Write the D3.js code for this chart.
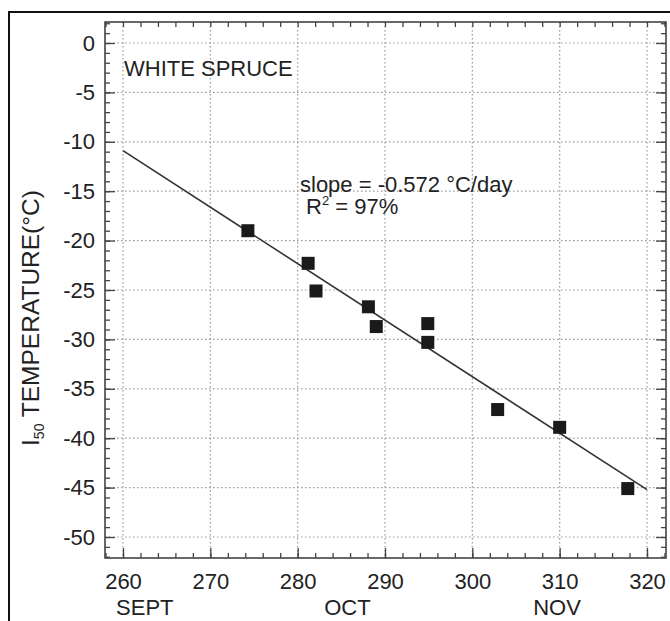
<!DOCTYPE html>
<html>
<head>
<meta charset="utf-8">
<script src="https://cdn.jsdelivr.net/npm/d3@7"></script>
<style>
  body { margin: 0; background: #fff; }
  svg { display: block; font-family: "Liberation Sans", Arial, sans-serif; }
</style>
</head>
<body>
<div id="chart"></div>
<script>
// 데이터
const dayOfYear = [274.3, 281.2, 282.1, 288.1, 289.0, 294.9, 294.9, 302.9, 310.0, 317.8];
const i50Temp   = [-19.0, -22.3, -25.1, -26.7, -28.7, -28.4, -30.3, -37.1, -38.9, -45.1];
const fitDays   = [260, 320];
const fitTemps  = [-10.9, -45.2];
const xTicks = [260, 270, 280, 290, 300, 310, 320];
const yTicks = [0, -5, -10, -15, -20, -25, -30, -35, -40, -45, -50];
const months = ['SEPT', 'OCT', 'NOV'];
const monthDays = [262.5, 285.7, 309.7];

const W = 670, H = 621;
const box = {left: 105, right: 666, top: 22, bottom: 558};

const svg = d3.select('#chart')
    .append('svg')
    .attr('width', W)
    .attr('height', H);

// 바깥 테두리
svg.append('rect')
    .attr('x', 9).attr('y', 12)
    .attr('width', 720).attr('height', 720)
    .attr('fill', 'none')
    .attr('stroke', '#111')
    .attr('stroke-width', 2);

const x = d3.scaleLinear().domain([260, 320]).range([123, 647]);
const y = d3.scaleLinear().domain([0, -50]).range([43, 537]);

const minorX = d3.range(258, 323, 2);
const minorY = d3.range(2, -53, -1);

// 격자
svg.append('g')
    .selectAll('line')
    .data(xTicks)
    .enter().append('line')
    .attr('x1', d => x(d)).attr('x2', d => x(d))
    .attr('y1', box.top).attr('y2', box.bottom)
    .attr('stroke', '#999')
    .attr('stroke-width', 1.2)
    .attr('stroke-dasharray', '1.5,2.5');

svg.append('g')
    .selectAll('line')
    .data(yTicks)
    .enter().append('line')
    .attr('x1', box.left).attr('x2', box.right)
    .attr('y1', d => y(d)).attr('y2', d => y(d))
    .attr('stroke', '#999')
    .attr('stroke-width', 1.2)
    .attr('stroke-dasharray', '1.5,2.5');

// 축 (안쪽 눈금)
function styleAxis(g) {
    g.select('.domain').remove();
    g.selectAll('line').attr('stroke', '#444').attr('stroke-width', 1.3);
    g.selectAll('text')
        .attr('fill', '#222')
        .style('font-size', '22px');
}

const plain = d => String(d);

// 왼쪽
svg.append('g')
    .attr('transform', `translate(${box.left},0)`)
    .call(d3.axisLeft(y).tickValues(minorY).tickSize(-5).tickFormat(''))
    .call(styleAxis);
svg.append('g')
    .attr('transform', `translate(${box.left},0)`)
    .call(d3.axisLeft(y).tickValues(yTicks).tickSize(-10).tickPadding(10).tickFormat(plain))
    .call(styleAxis);

// 오른쪽
svg.append('g')
    .attr('transform', `translate(${box.right},0)`)
    .call(d3.axisRight(y).tickValues(minorY).tickSize(-5).tickFormat(''))
    .call(styleAxis);
svg.append('g')
    .attr('transform', `translate(${box.right},0)`)
    .call(d3.axisRight(y).tickValues(yTicks).tickSize(-10).tickFormat(''))
    .call(styleAxis);

// 아래
svg.append('g')
    .attr('transform', `translate(0,${box.bottom})`)
    .call(d3.axisBottom(x).tickValues(minorX).tickSize(-5).tickFormat(''))
    .call(styleAxis);
svg.append('g')
    .attr('transform', `translate(0,${box.bottom})`)
    .call(d3.axisBottom(x).tickValues(xTicks).tickSize(-10).tickPadding(15).tickFormat(plain))
    .call(styleAxis);

// 위
svg.append('g')
    .attr('transform', `translate(0,${box.top})`)
    .call(d3.axisTop(x).tickValues(minorX).tickSize(-5).tickFormat(''))
    .call(styleAxis);

// 플롯 박스
svg.append('rect')
    .attr('x', box.left).attr('y', box.top)
    .attr('width', box.right - box.left)
    .attr('height', box.bottom - box.top)
    .attr('fill', 'none')
    .attr('stroke', '#444')
    .attr('stroke-width', 1.6);

// 월 레이블
svg.append('g')
    .selectAll('text')
    .data(months)
    .enter().append('text')
    .attr('x', (d, i) => x(monthDays[i]))
    .attr('y', 615)
    .attr('text-anchor', 'middle')
    .attr('fill', '#222')
    .style('font-size', '22px')
    .text(d => d);

// 회귀선
const fit = fitDays.map((d, i) => ({day: d, temp: fitTemps[i]}));
svg.append('path')
    .datum(fit)
    .attr('fill', 'none')
    .attr('stroke', '#333')
    .attr('stroke-width', 1.6)
    .attr('d', d3.line().x(d => x(d.day)).y(d => y(d.temp)));

// 데이터 포인트
const pts = dayOfYear.map((d, i) => ({day: d, temp: i50Temp[i]}));
const s = 13;
svg.append('g')
    .selectAll('rect')
    .data(pts)
    .enter().append('rect')
    .attr('x', d => x(d.day) - s / 2)
    .attr('y', d => y(d.temp) - s / 2)
    .attr('width', s).attr('height', s)
    .attr('fill', '#1a1a1a');

// 주석
svg.append('text')
    .attr('x', 124).attr('y', 76)
    .attr('fill', '#222')
    .style('font-size', '22px')
    .text('WHITE SPRUCE');

svg.append('text')
    .attr('x', 300).attr('y', 192)
    .attr('fill', '#222')
    .style('font-size', '22px')
    .text('slope = -0.572 °C/day');

const r2 = svg.append('text')
    .attr('x', 306).attr('y', 214)
    .attr('fill', '#222')
    .style('font-size', '22px');
r2.append('tspan').text('R');
r2.append('tspan').attr('dy', -9).style('font-size', '13px').text('2');
r2.append('tspan').attr('dy', 9).text(' = 97%');

// Y축 레이블
const yl = svg.append('text')
    .attr('transform', 'translate(39,318) rotate(-90)')
    .attr('text-anchor', 'middle')
    .attr('fill', '#222')
    .style('font-size', '24.5px');
yl.append('tspan').text('I');
yl.append('tspan').attr('dy', 5).style('font-size', '14px').text('50');
yl.append('tspan').attr('dy', -5).text(' TEMPERATURE(°C)');
</script>
</body>
</html>
